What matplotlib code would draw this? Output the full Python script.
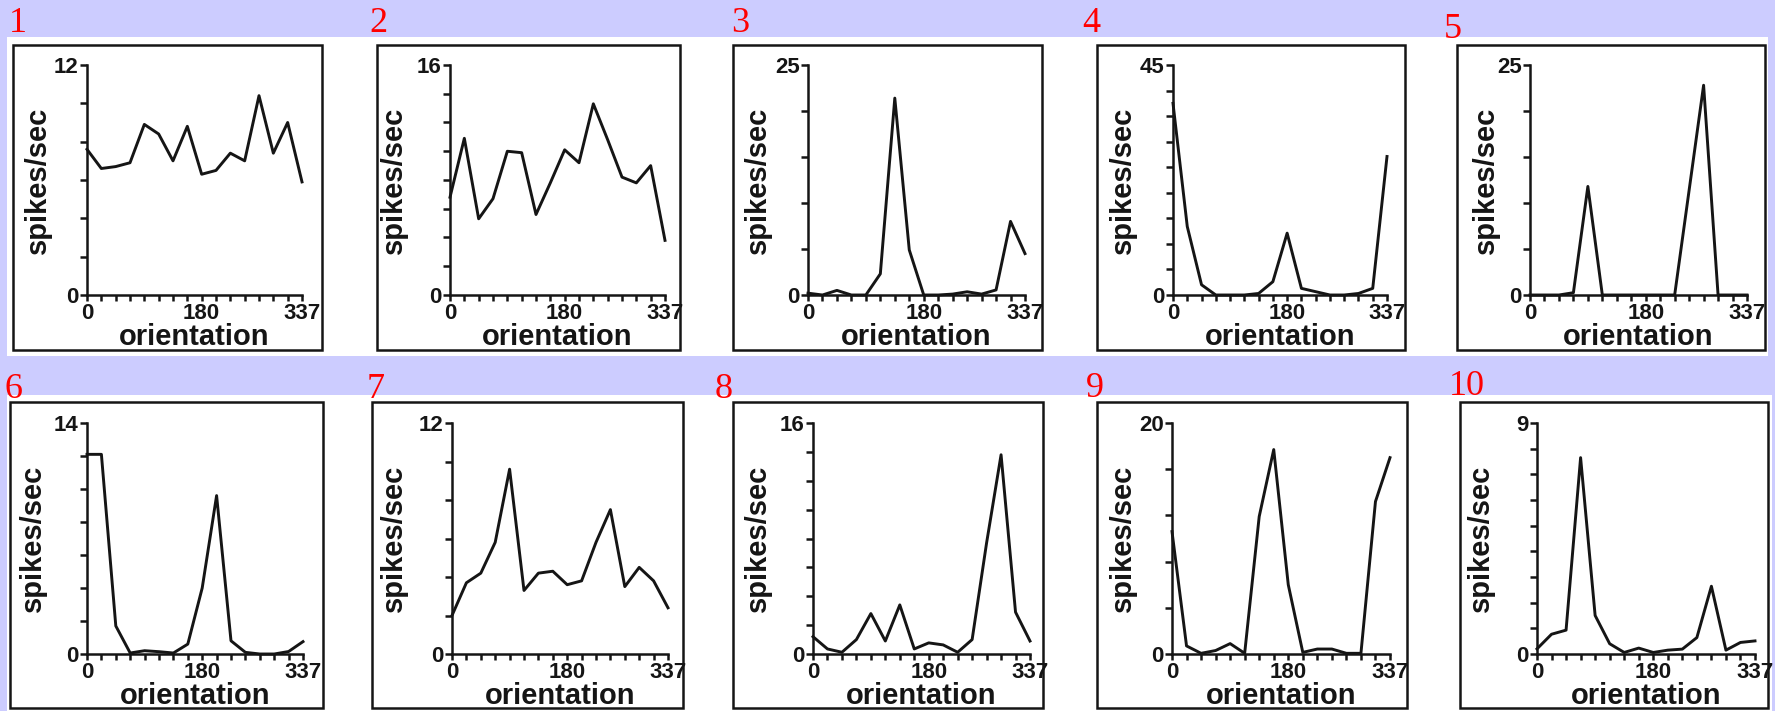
import matplotlib.pyplot as plt
from matplotlib.patches import Rectangle

# orientation of the stimulus, degrees
orientation = [0, 22.5, 45, 67.5, 90, 112.5, 135, 157.5,
               180, 202.5, 225, 247.5, 270, 292.5, 315, 337.5]

# firing rate (spikes/sec) per cell
cell_1 = [7.6, 6.6, 6.7, 6.9, 8.9, 8.4, 7.0, 8.8, 6.3, 6.5, 7.4, 7.0, 10.4, 7.4, 9.0, 5.9]
cell_2 = [6.8, 10.9, 5.3, 6.7, 10.0, 9.9, 5.6, 7.8, 10.1, 9.2, 13.3, 10.8, 8.2, 7.8, 9.0, 3.8]
cell_3 = [0.2, 0.0, 0.5, 0.0, 0.0, 2.3, 21.4, 4.9, 0.0, 0.0, 0.1, 0.35, 0.1, 0.55, 8.0, 4.5]
cell_4 = [37.5, 13.4, 2.0, 0.0, 0.0, 0.0, 0.3, 2.6, 12.1, 1.3, 0.65, 0.0, 0.0, 0.3, 1.3, 27.1]
cell_5 = [0.0, 0.0, 0.0, 0.25, 11.8, 0.0, 0.0, 0.0, 0.0, 0.0, 0.0, 11.4, 22.8, 0.0, 0.0, 0.0]
cell_6 = [12.1, 12.1, 1.7, 0.06, 0.2, 0.14, 0.06, 0.6, 4.0, 9.6, 0.8, 0.1, 0.0, 0.0, 0.15, 0.75]
cell_7 = [2.0, 3.7, 4.2, 5.8, 9.6, 3.3, 4.2, 4.3, 3.6, 3.8, 5.8, 7.5, 3.5, 4.5, 3.8, 2.4]
cell_8 = [1.2, 0.35, 0.12, 1.0, 2.8, 0.9, 3.4, 0.35, 0.77, 0.63, 0.12, 1.0, 7.7, 13.8, 2.9, 0.9]
cell_9 = [10.6, 0.7, 0.06, 0.3, 0.9, 0.06, 11.9, 17.7, 6.0, 0.14, 0.43, 0.43, 0.06, 0.06, 13.2, 17.0]
cell_10 = [0.2, 0.77, 0.93, 7.65, 1.5, 0.4, 0.06, 0.23, 0.06, 0.15, 0.19, 0.64, 2.64, 0.15, 0.45, 0.51]

cells = [cell_1, cell_2, cell_3, cell_4, cell_5, cell_6, cell_7, cell_8, cell_9, cell_10]
y_max = [12, 16, 25, 45, 25, 14, 12, 16, 20, 9]
y_step = [2, 2, 5, 5, 5, 2, 2, 2, 4, 1]
panel_names = ['1', '2', '3', '4', '5', '6', '7', '8', '9', '10']
x_tick_labels = {0: '0', 180: '180', 337.5: '337'}

# layout, in pixels of the 1775x711 picture
W, H = 1775, 711
axes_px = [(87, 302, 65, 295), (450, 665, 65, 295), (808, 1025, 65, 295),
           (1173, 1387, 65, 295), (1530, 1747, 65, 295),
           (87, 303, 423, 654), (452, 668, 423, 654), (813, 1030, 423, 654),
           (1172, 1390, 423, 654), (1537, 1755, 423, 654)]
frames_px = [(13, 45, 322, 350), (377, 45, 680, 350), (733, 45, 1042, 350),
             (1097, 45, 1405, 350), (1457, 45, 1765, 350),
             (10, 402, 323, 708), (372, 402, 683, 708), (733, 402, 1043, 708),
             (1097, 402, 1407, 708), (1460, 402, 1768, 708)]
ylabel_off = [-35, -42, -36, -36, -30, -40, -44, -41, -35, -42]
names_px = [(9, 32), (369, 32), (731, 32), (1082, 32), (1444, 38),
            (4, 398), (367, 398), (715, 398), (1086, 397), (1449, 395)]

fig = plt.figure(figsize=(W / 100, H / 100), dpi=100, facecolor='#ccccff')

# white strips behind each row
for x0, y0, x1, y1 in [(7, 37, 1768, 356), (7, 395, 1772, 711)]:
    fig.patches.append(Rectangle((x0 / W, 1 - y1 / H), (x1 - x0) / W, (y1 - y0) / H,
                                 transform=fig.transFigure, facecolor='white',
                                 edgecolor='none', zorder=-2))

for i, values in enumerate(cells):
    # frame around the panel
    x0, y0, x1, y1 = frames_px[i]
    fig.patches.append(Rectangle((x0 / W, 1 - y1 / H), (x1 - x0) / W, (y1 - y0) / H,
                                 transform=fig.transFigure, facecolor='none',
                                 edgecolor='#151515', linewidth=1.8, zorder=-1))

    xa, xe, yt, yz = axes_px[i]
    ax = fig.add_axes([xa / W, 1 - yz / H, (xe - xa) / W, (yz - yt) / H])
    ax.patch.set_alpha(0)
    ax.plot(orientation, values, color='#151515', linewidth=2.1, clip_on=False)
    ax.set_xlim(0, 337.5)
    ax.set_ylim(0, y_max[i])

    ax.set_xticks(orientation)
    ax.set_xticklabels([x_tick_labels.get(o, '') for o in orientation])
    yt_vals = list(range(0, y_max[i] + 1, y_step[i]))
    ax.set_yticks(yt_vals)
    ax.set_yticklabels([str(v) if v in (0, y_max[i]) else '' for v in yt_vals])

    for side in ['top', 'right']:
        ax.spines[side].set_visible(False)
    for side in ['left', 'bottom']:
        ax.spines[side].set_linewidth(1.8)
        ax.spines[side].set_color('#151515')
    ax.tick_params(axis='both', direction='out', width=1.8, color='#151515',
                   labelsize=16, labelcolor='#151515')
    ax.tick_params(axis='x', length=4, pad=2)
    ax.tick_params(axis='y', length=5, pad=1)
    for lab in ax.get_xticklabels() + ax.get_yticklabels():
        lab.set_fontweight('bold')
        lab.set_family('Liberation Sans')

    ax.set_xlabel('orientation', fontsize=21, fontweight='bold',
                  family='Liberation Sans', color='#151515', labelpad=-1)
    ax.set_ylabel('spikes/sec', fontsize=21, fontweight='bold',
                  family='Liberation Sans', color='#151515')
    ax.yaxis.set_label_coords(ylabel_off[i] / (xe - xa), 0.5)

    nx, ny = names_px[i]
    fig.text(nx / W, 1 - ny / H, panel_names[i], color='red', fontsize=26,
             family='Liberation Serif', ha='left', va='baseline', zorder=5)

fig.savefig('out.png', dpi=100, facecolor=fig.get_facecolor())
